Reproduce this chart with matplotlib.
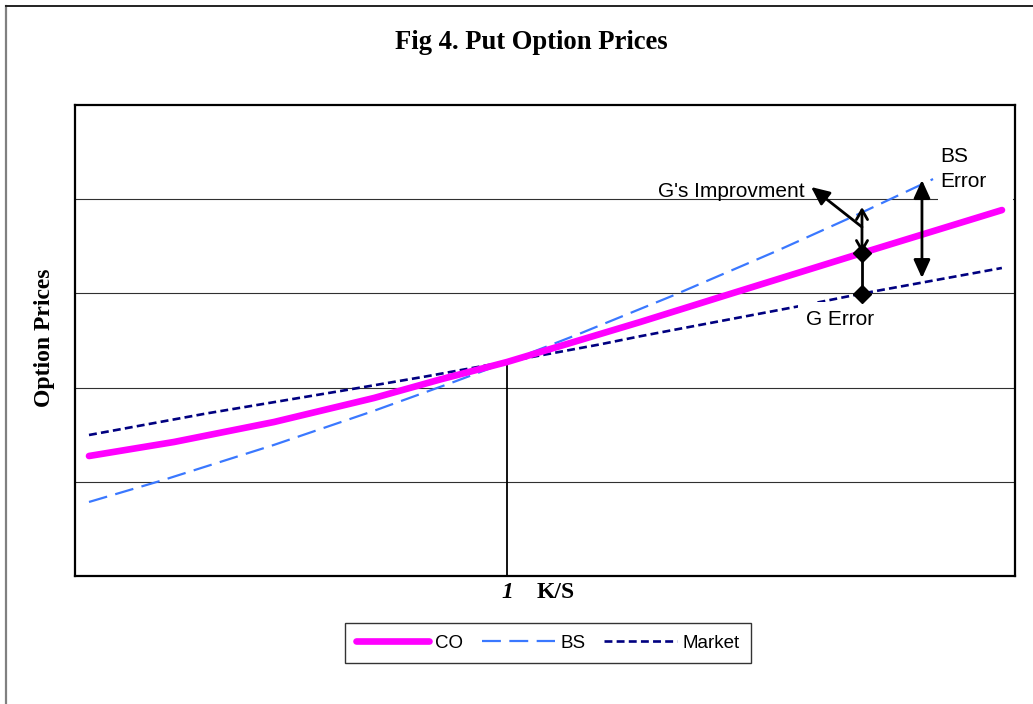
import numpy as np
import matplotlib
matplotlib.use("Agg")
import matplotlib.pyplot as plt
from matplotlib.lines import Line2D
from matplotlib.patches import Rectangle

# ---- data -------------------------------------------------------------
ks_co = [0.5549, 0.6454, 0.7517, 0.8581, 0.9283, 0.9996, 1.1411, 1.2400, 1.3772, 1.5261]
co = [1.274, 1.423, 1.635, 1.890, 2.086, 2.272, 2.696, 3.004, 3.429, 3.885]

ks_bs = [0.5549, 0.6326, 0.7517, 0.8581, 0.9432, 0.9996, 1.0772, 1.1751, 1.2868, 1.3751, 1.4528]
bs = [0.786, 1.015, 1.392, 1.754, 2.061, 2.272, 2.574, 2.973, 3.452, 3.850, 4.214]

ks_mkt = [0.5549, 0.680, 0.823, 0.914, 0.992, 1.099, 1.141, 1.308, 1.378, 1.526]
market = [1.497, 1.726, 1.965, 2.120, 2.262, 2.460, 2.545, 2.860, 3.000, 3.270]

ks_atm = 1.0          # K/S = 1 reference line
ks_g = 1.3772         # where CO vs market gap is marked
ks_bs_err = 1.441     # where BS vs market gap is marked
g_improve_top = 3.917
g_arrow_from = 3.705
g_arrow_to = (1.323, 4.130)
bs_err_span = (4.204, 3.163)

serif = "Liberation Serif"
sans = "Liberation Sans"

fig = plt.figure(figsize=(10.33, 7.04), dpi=100)
ax = fig.add_axes([0.0726, 0.1818, 0.9100, 0.6690])
ax.set_xlim(0.54, 1.54)
ax.set_ylim(0, 5)

for s in ax.spines.values():
    s.set_linewidth(1.6)
    s.set_color("black")
ax.set_xticks([])
ax.set_yticks([1, 2, 3, 4])
ax.tick_params(left=False, labelleft=False)
ax.yaxis.grid(True, color="#303030", linewidth=0.8, zorder=0)
ax.set_axisbelow(True)

# vertical marker at K/S = 1
co_atm = np.interp(ks_atm, ks_co, co)
ax.plot([ks_atm, ks_atm], [0, co_atm], color="black", lw=1.3, zorder=1.5)

ax.plot(ks_co, co, color="#FF00FF", lw=4.8, solid_capstyle="round", zorder=3, label="CO")
ax.plot(ks_bs, bs, color="#3A78FF", lw=1.6, dashes=(8.5, 3.8), zorder=2.5, label="BS")
ax.plot(ks_mkt, market, color="#000080", lw=1.9, dashes=(3.0, 1.6), zorder=2.6, label="Market")

# white text boxes sitting over the lines
ax.add_patch(Rectangle((1.4585, 3.97), 0.0795, 0.88, facecolor="white", edgecolor="none", zorder=4))
ax.add_patch(Rectangle((1.309, 2.55), 0.085, 0.355, facecolor="white", edgecolor="none", zorder=4))

# annotations
co_g = np.interp(ks_g, ks_co, co)
mkt_g = np.interp(ks_g, ks_mkt, market)
ax.plot([ks_g, ks_g], [co_g, mkt_g], color="black", lw=2, marker="D",
        markersize=9.5, zorder=6)
ax.annotate("", xy=(ks_g, g_improve_top), xytext=(ks_g, co_g),
            arrowprops=dict(arrowstyle="<->,head_length=0.35,head_width=0.2",
                            mutation_scale=20, lw=2, color="black",
                            shrinkA=0, shrinkB=0), zorder=6)
ax.annotate("", xy=g_arrow_to, xytext=(ks_g, g_arrow_from),
            arrowprops=dict(arrowstyle="-|>,head_length=0.55,head_width=0.25",
                            mutation_scale=20, lw=2, color="black",
                            shrinkA=0, shrinkB=0), zorder=6)
ax.annotate("", xy=(ks_bs_err, bs_err_span[0]), xytext=(ks_bs_err, bs_err_span[1]),
            arrowprops=dict(arrowstyle="<|-|>,head_length=0.55,head_width=0.25",
                            mutation_scale=20, lw=2, color="black",
                            shrinkA=0, shrinkB=0), zorder=6)

ax.text(1.160, 4.02, "G's Improvment", fontsize=15, family=sans, ha="left",
        va="baseline", zorder=7)
ax.text(1.460, 4.395, "BS", fontsize=15, family=sans, ha="left",
        va="baseline", zorder=7)
ax.text(1.460, 4.130, "Error", fontsize=15, family=sans, ha="left",
        va="baseline", zorder=7)
ax.text(1.318, 2.66, "G Error", fontsize=15, family=sans, ha="left",
        va="baseline", zorder=7)

# axis texts
fig.text(0.5140, 0.940, "Fig 4. Put Option Prices", fontsize=19.2, family=serif,
         weight="bold", ha="center", va="center")
fig.text(0.0430, 0.520, "Option Prices", fontsize=17, family=serif, weight="bold",
         rotation=90, ha="center", va="center")
fig.text(0.4908, 0.1577, "1", fontsize=17, family=serif, weight="bold",
         style="italic", ha="center", va="center")
fig.text(0.5375, 0.1577, "K/S", fontsize=17, family=serif, weight="bold",
         ha="center", va="center")

leg = fig.legend(loc="center", bbox_to_anchor=(0.5305, 0.0866), ncol=3,
                 prop={"family": sans, "size": 13.5}, frameon=True, fancybox=False,
                 handlelength=3.9, handletextpad=0.3, columnspacing=1.0,
                 borderpad=0.6, borderaxespad=0)
leg.get_frame().set_edgecolor("black")
leg.get_frame().set_linewidth(1.0)

# outer chart border
fig.add_artist(Line2D([0.0058, 0.0058], [0, 0.9915], transform=fig.transFigure,
                      color="#808080", lw=1.6))
fig.add_artist(Line2D([0.0058, 1.0], [0.9915, 0.9915], transform=fig.transFigure,
                      color="#222222", lw=1.4))

fig.savefig("out.png", dpi=100)
